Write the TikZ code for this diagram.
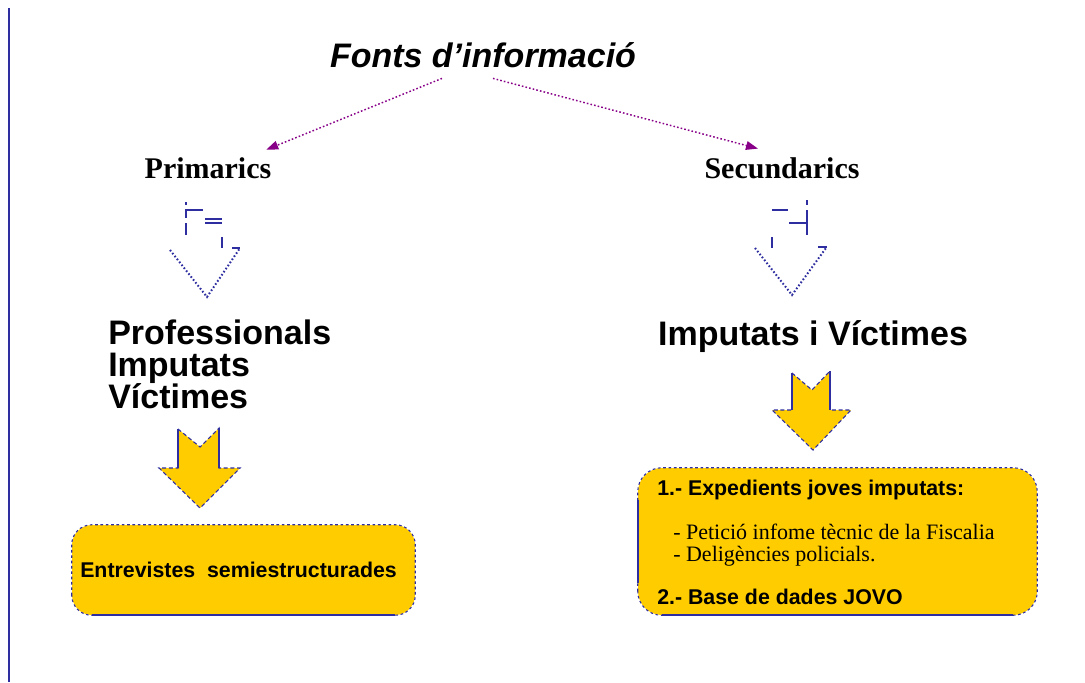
\documentclass[tikz,border=0pt]{standalone}
\usepackage{fontspec}
\setmainfont{Liberation Serif}
\setsansfont{Liberation Sans}
\usetikzlibrary{arrows.meta}
\definecolor{gold}{HTML}{FFCC00}
\definecolor{navy}{HTML}{2E2EA0}
\definecolor{purp}{HTML}{880088}
\tikzset{
  titletext/.style={font=\sffamily\bfseries\itshape\fontsize{25.5}{25.5}\selectfont, inner sep=0pt},
  leveltext/.style={font=\bfseries\fontsize{22.5}{22.5}\selectfont, inner sep=0pt},
  bigtext/.style={font=\sffamily\bfseries\fontsize{25.5}{24}\selectfont, inner sep=0pt, align=left},
  boxhead/.style={font=\sffamily\bfseries\fontsize{16}{16}\selectfont, inner sep=0pt, anchor=west},
  boxsub/.style={font=\fontsize{16.5}{16.5}\selectfont, inner sep=0pt, anchor=west},
  link/.style={purp, line width=1.1pt, dash pattern=on 1.2pt off 1.6pt, -{Triangle[length=9pt,width=6.5pt]}},
  hollow/.style={navy, line width=1.3pt},
  hollowtip/.style={navy, line width=1.5pt, dash pattern=on 1.2pt off 1.6pt},
  fatarrow/.style={fill=gold, draw=navy, line width=0.8pt, dash pattern=on 3pt off 2pt},
  card/.style={fill=gold, inner sep=0pt},
  cardedge/.style={navy, line width=0.8pt, dash pattern=on 2pt off 2pt},
  cardline/.style={navy, line width=1.2pt},
}
\begin{document}
\begin{tikzpicture}[x=0.75pt,y=-0.75pt]
\useasboundingbox[fill=white] (0,0) rectangle (1085,682);
% left rule
\draw[navy, line width=1.5pt] (9,8) -- (9,682);

% title and levels
\node[titletext] (src) at (483,55.5) {Fonts d'informació};
\node[leveltext] (prim) at (208,168) {Primarics};
\node[leveltext] (sec) at (782,168) {Secundarics};
\draw[link] ([xshift=-30.75pt,yshift=-7.5pt]src.south) -- ([xshift=-4pt,yshift=5.6pt]prim.north east);
\draw[link] ([xshift=7.5pt,yshift=-7.5pt]src.south) -- ([xshift=-18pt,yshift=6.4pt]sec.north);

% left hollow arrow
\draw[hollow] (186,202) -- (186,205);
\draw[hollow] (203,210) -- (186,210) -- (186,218);
\draw[hollow] (186,223) -- (186,235);
\draw[hollow] (205,219) -- (222,219) (205,223) -- (222,223);
\draw[hollow] (222,237) -- (222,248);
\draw[hollow] (232,248) -- (240,248);
\draw[hollowtip] (170,250) -- (207,297) -- (240,248);

% right hollow arrow
\draw[hollow] (772,210) -- (788,210);
\draw[hollow] (807,200) -- (807,205);
\draw[hollow] (807,210) -- (807,235);
\draw[hollow] (789,223) -- (807,223);
\draw[hollow] (772,237) -- (772,248);
\draw[hollow] (818,247) -- (827,247);
\draw[hollowtip] (755,248) -- (792,295) -- (826,248);

% groups
\node[bigtext, anchor=north west] (who) at (108,320) {Professionals\\Imputats\\Víctimes};
\node[bigtext, anchor=base] (who2) at (813,345) {Imputats i Víctimes};

% yellow arrows
\path[fatarrow] (178,429) -- (200,447) -- (219,428) -- (219,468) -- (240,468) -- (200,508) -- (159,468) -- (178,468) -- cycle;
\draw[cardline] (178,429) -- (178,468) (219,428) -- (219,468);
\path[fatarrow] (792,373) -- (812,390) -- (830,371) -- (830,410) -- (851,410) -- (813,450) -- (772,410) -- (792,410) -- cycle;
\draw[cardline] (792,373) -- (792,410) (830,371) -- (830,410);

% left card
\node[card, rounded corners=15pt, minimum width=257.25pt, minimum height=67.5pt] (ent) at (243.5,570) {};
\draw[cardedge, rounded corners=15pt] (ent.south west) rectangle (ent.north east);
\draw[cardline] ([xshift=15pt]ent.south west) -- ([xshift=-15pt]ent.south east);
\node[boxhead] (enttext) at (80,570) {Entrevistes\ \ semiestructurades};

% right card
\node[card, rounded corners=18pt, minimum width=299.25pt, minimum height=110.25pt] (docs) at (837.5,541.5) {};
\draw[cardedge, rounded corners=18pt] (docs.south west) rectangle (docs.north east);
\draw[cardline] ([xshift=18pt]docs.south west) -- ([xshift=-18pt]docs.south east);
\draw[cardline] ([yshift=-24pt]docs.north west) -- ([yshift=24pt]docs.south west);
\node[boxhead] (d1) at (657,490) {1.- Expedients joves imputats:};
\node[boxsub] (d1a) at (673,532) {- Petició infome tècnic de la Fiscalia};
\node[boxsub] (d1b) at (673,556) {- Deligències policials.};
\node[boxhead] (d2) at (657,597) {2.- Base de dades JOVO};
\end{tikzpicture}
\end{document}
